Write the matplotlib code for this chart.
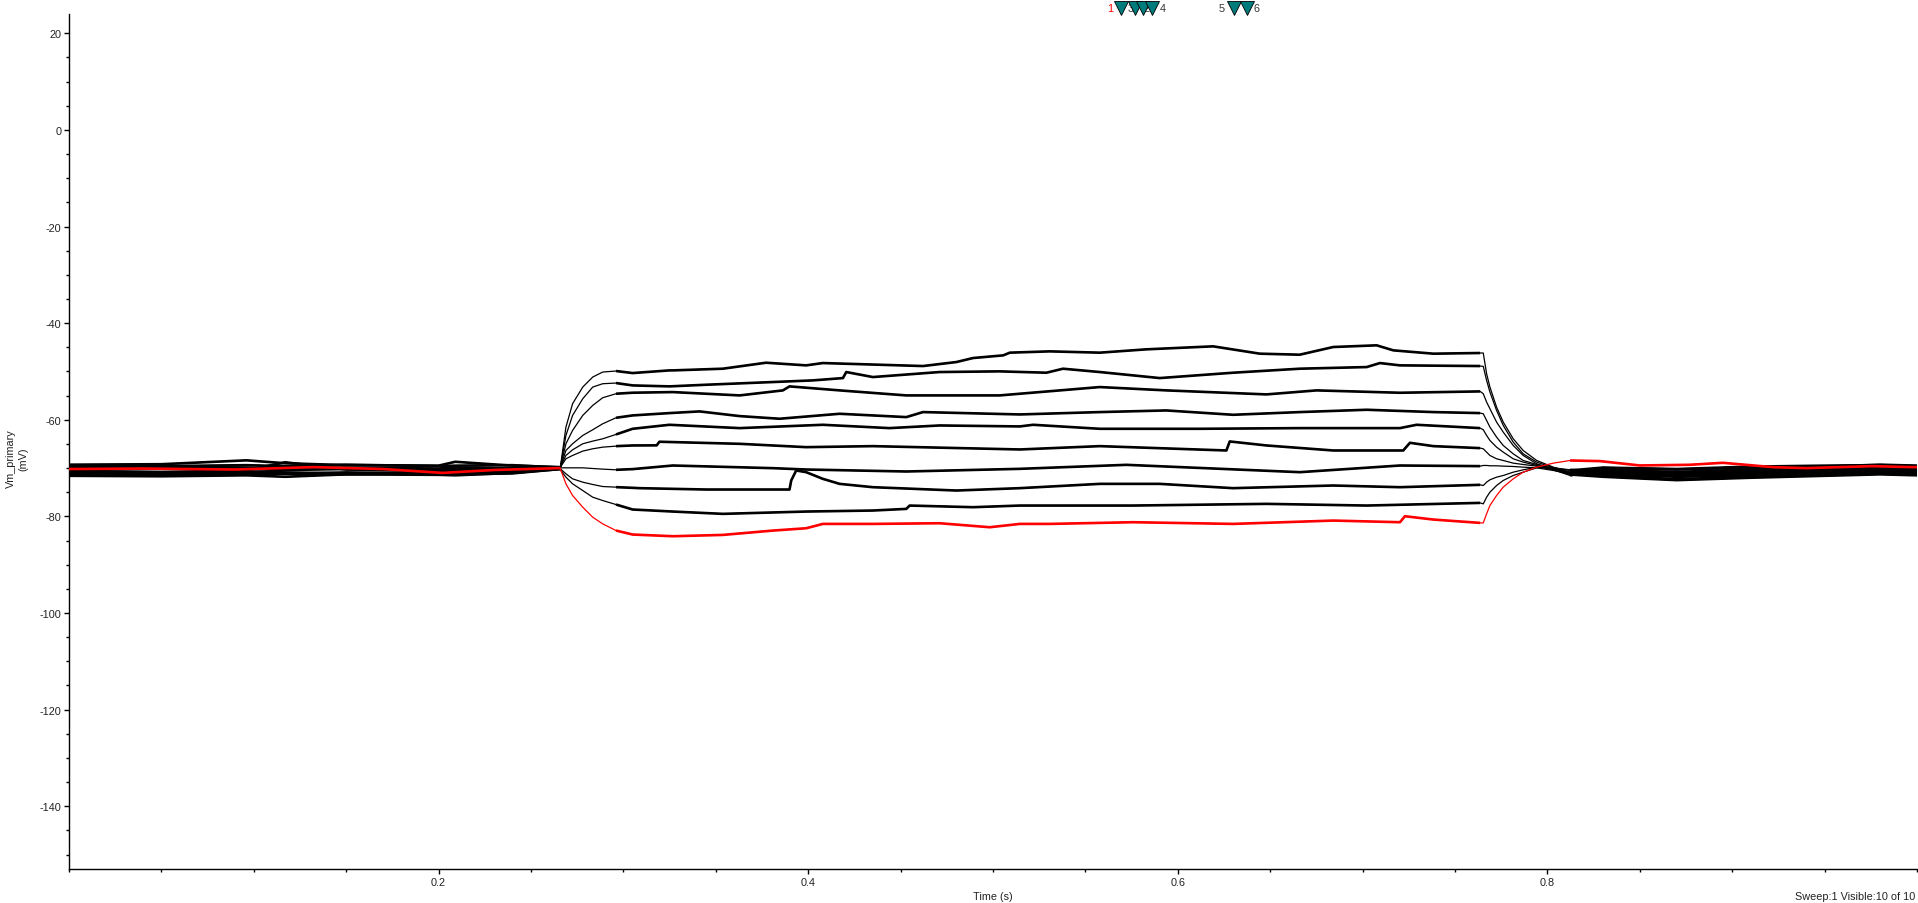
import numpy as np
import matplotlib
matplotlib.use("Agg")
import matplotlib.pyplot as plt
from matplotlib.ticker import MultipleLocator, FixedLocator
import matplotlib.transforms as mtransforms

plt.rcParams['font.family'] = ['Liberation Sans', 'DejaVu Sans']

# ---------------- data (time in s, Vm in mV) ----------------
pre_t = [0.0, 0.05, 0.096, 0.117, 0.15, 0.20, 0.209, 0.24, 0.2659]
onset_t = [0.2659, 0.2689, 0.2725, 0.2780, 0.2834, 0.2888, 0.2960, 0.3050]
offset_t = [0.7653, 0.7671, 0.7689, 0.7725, 0.7761, 0.7815, 0.7869, 0.7942, 0.8032, 0.8123]
post_t = [0.83, 0.87, 0.91, 0.95, 0.98, 1.0]

# sweep 1 (top, most depolarised)
s1_pre = [-69.3, -69.2, -68.4, -69.0, -69.4, -69.5, -68.7, -69.5, -69.8]
s1_on = [-69.81, -61.52, -56.68, -53.23, -51.16, -50.12, -49.91, -50.33]
s1_pl_t = [0.3249, 0.3267, 0.3538, 0.3772, 0.3989, 0.4079, 0.4621, 0.4802, 0.4892, 0.5055, 0.5091,
           0.5307, 0.5578, 0.5830, 0.6191, 0.6444, 0.6660, 0.6841, 0.7076, 0.7166, 0.7383, 0.7636]
s1_pl_v = [-49.78, -49.78, -49.43, -48.19, -48.74, -48.26, -48.88, -48.05, -47.22, -46.67, -46.11,
           -45.84, -46.11, -45.42, -44.80, -46.32, -46.53, -44.94, -44.59, -45.63, -46.32, -46.18]
s1_off = [-46.18, -50.47, -53.23, -57.38, -60.48, -63.94, -66.36, -68.43, -69.81, -70.85]
s1_post = [-70.9, -71.3, -70.8, -70.6, -70.2, -70.4]

# sweep 2
s2_pre = [-70.6, -70.8, -70.5, -68.8, -70.3, -70.5, -70.4, -70.6, -70.0]
s2_on = [-69.81, -63.25, -59.10, -55.65, -53.23, -52.54, -52.40, -52.89]
s2_pl_t = [0.3249, 0.3448, 0.3809, 0.4025, 0.4188, 0.4206, 0.4350, 0.4711, 0.5036, 0.5289, 0.5379,
           0.5578, 0.5902, 0.6299, 0.6660, 0.7022, 0.7094, 0.7202, 0.7636]
s2_pl_v = [-53.09, -52.75, -52.19, -51.85, -51.37, -50.12, -51.16, -50.12, -49.98, -50.26, -49.43,
           -50.12, -51.37, -50.26, -49.43, -49.09, -48.26, -48.74, -48.88]
s2_off = [-48.95, -51.85, -54.27, -58.07, -61.17, -64.63, -67.05, -68.77, -69.95, -71.05]
s2_post = [-71.2, -71.8, -71.5, -71.0, -70.8, -71.0]

# sweep 3
s3_pre = [-71.6, -71.7, -71.5, -71.8, -71.3, -71.4, -71.5, -71.0, -70.2]
s3_on = [-69.81, -64.97, -62.21, -59.10, -57.03, -55.44, -54.61, -54.40]
s3_pl_t = [0.3267, 0.3629, 0.3863, 0.3899, 0.4170, 0.4531, 0.5036, 0.5578, 0.5938, 0.6480,
           0.6751, 0.7202, 0.7636]
s3_pl_v = [-54.27, -54.96, -53.92, -53.09, -53.92, -54.96, -54.96, -53.23, -53.92, -54.75,
           -53.92, -54.41, -54.13]
s3_off = [-54.61, -56.34, -57.72, -60.48, -62.56, -65.32, -67.39, -69.12, -70.16, -70.85]
s3_post = [-70.4, -70.8, -70.3, -70.0, -69.6, -69.8]

# sweep 4
s4_pre = [-69.8, -69.7, -69.9, -70.0, -69.9, -70.1, -69.9, -70.0, -70.0]
s4_on = [-69.81, -66.36, -64.97, -63.25, -62.07, -60.83, -59.59, -59.10]
s4_pl_t = [0.3249, 0.3412, 0.3629, 0.3845, 0.4170, 0.4531, 0.4621, 0.5145, 0.5578, 0.5938,
           0.6299, 0.6660, 0.7022, 0.7383, 0.7636]
s4_pl_v = [-58.62, -58.27, -59.24, -59.79, -58.76, -59.45, -58.41, -58.90, -58.41, -58.07,
           -58.97, -58.41, -57.93, -58.41, -58.62]
s4_off = [-58.76, -60.14, -61.52, -63.59, -65.32, -67.05, -68.43, -69.26, -70.16, -71.19]
s4_post = [-71.5, -72.3, -71.8, -71.4, -71.0, -71.2]

# sweep 5
s5_pre = [-71.0, -71.3, -71.0, -71.2, -70.9, -71.2, -71.1, -70.8, -70.1]
s5_on = [-69.81, -67.39, -66.22, -64.97, -64.42, -63.94, -63.04, -61.87]
s5_pl_t = [0.3249, 0.3629, 0.4079, 0.4440, 0.4711, 0.5145, 0.5217, 0.5578, 0.6119, 0.6660,
           0.7202, 0.7292, 0.7636]
s5_pl_v = [-61.04, -61.73, -61.04, -61.73, -61.18, -61.38, -61.04, -61.87, -61.87, -61.73,
           -61.73, -61.04, -61.73]
s5_off = [-62.07, -63.25, -64.28, -65.67, -66.70, -68.08, -68.77, -69.46, -70.36, -71.33]
s5_post = [-71.8, -72.5, -72.0, -71.6, -71.3, -71.5]

# sweep 6
s6_pre = [-70.3, -70.1, -70.2, -70.4, -70.2, -70.3, -70.4, -70.3, -70.0]
s6_on = [-69.81, -68.08, -67.39, -66.49, -66.01, -65.67, -65.46, -65.32]
s6_pl_t = [0.3180, 0.3195, 0.3629, 0.3989, 0.4350, 0.5145, 0.5578, 0.6263, 0.6281, 0.6480,
           0.6841, 0.7220, 0.7256, 0.7383, 0.7636]
s6_pl_v = [-65.30, -64.55, -64.98, -65.67, -65.46, -66.15, -65.46, -66.36, -64.49, -65.32,
           -66.36, -66.36, -64.77, -65.46, -65.87]
s6_off = [-66.01, -66.70, -67.39, -68.08, -68.43, -68.98, -69.26, -69.60, -70.36, -71.54]
s6_post = [-70.0, -70.3, -69.9, -69.7, -69.3, -69.5]

# sweep 7 (near rest)
s7_pre = [-71.2, -71.0, -71.4, -71.1, -71.3, -71.0, -71.3, -71.1, -70.2]
s7_on = [-69.95, -69.95, -69.95, -69.95, -70.09, -70.22, -70.36, -70.22]
s7_pl_t = [0.3267, 0.3809, 0.3989, 0.4531, 0.5145, 0.5722, 0.6660, 0.7202, 0.7636]
s7_pl_v = [-69.47, -70.02, -70.30, -70.71, -70.16, -69.33, -70.85, -69.47, -69.60]
s7_off = [-69.46, -69.46, -69.53, -69.53, -69.60, -69.67, -69.81, -69.95, -70.50, -71.19]
s7_post = [-70.5, -71.0, -70.6, -70.3, -69.9, -70.1]

# sweep 8
s8_pre = [-69.5, -69.6, -69.4, -69.6, -69.3, -69.6, -69.5, -69.4, -69.9]
s8_on = [-70.16, -71.19, -72.23, -72.92, -73.40, -73.82, -73.95, -74.09]
s8_pl_t = [0.3086, 0.3448, 0.3899, 0.3908, 0.3935, 0.3989, 0.4079, 0.4170, 0.4350, 0.4802,
           0.5145, 0.5578, 0.5902, 0.6299, 0.6841, 0.7202, 0.7636]
s8_pl_v = [-74.16, -74.44, -74.44, -72.58, -70.50, -70.85, -72.23, -73.27, -73.96, -74.65,
           -74.16, -73.27, -73.27, -74.16, -73.61, -73.96, -73.47]
s8_off = [-73.61, -72.92, -72.43, -71.88, -71.54, -70.85, -70.36, -69.81, -69.95, -70.50]
s8_post = [-69.9, -70.2, -69.7, -69.5, -69.4, -69.6]

# sweep 9
s9_pre = [-70.9, -71.0, -70.7, -70.9, -71.1, -70.8, -70.9, -70.6, -70.1]
s9_on = [-70.36, -71.88, -73.26, -74.65, -76.03, -76.72, -77.55, -78.58]
s9_pl_t = [0.3267, 0.3538, 0.3989, 0.4350, 0.4531, 0.4549, 0.4892, 0.5145, 0.5758, 0.6480,
           0.7022, 0.7636]
s9_pl_v = [-79.00, -79.48, -79.00, -78.79, -78.45, -77.76, -78.10, -77.76, -77.76, -77.41,
           -77.76, -77.21]
s9_off = [-77.41, -76.03, -74.99, -73.61, -72.57, -71.54, -70.85, -69.95, -69.95, -70.36]
s9_post = [-70.7, -71.6, -71.2, -70.8, -70.5, -70.7]

# sweep 10 (red, most hyperpolarised, highlighted sweep)
red_pre_t = [0.0, 0.04, 0.09, 0.132, 0.17, 0.202, 0.23, 0.2659]
red_pre = [-70.2, -70.1, -70.3, -69.8, -70.2, -71.0, -70.4, -70.0]
red_on = [-70.16, -73.26, -75.68, -78.10, -80.17, -81.55, -82.93, -83.76]
red_pl_t = [0.3267, 0.3538, 0.3809, 0.3989, 0.4079, 0.4350, 0.4711, 0.4982, 0.5145, 0.5307,
            0.5758, 0.6299, 0.6841, 0.7202, 0.7229, 0.7383, 0.7636]
red_pl_v = [-84.11, -83.84, -82.94, -82.46, -81.56, -81.56, -81.42, -82.25, -81.56, -81.56,
            -81.21, -81.56, -80.87, -81.21, -79.97, -80.66, -81.35]
red_off = [-81.35, -79.48, -77.75, -75.68, -73.95, -72.23, -70.85, -69.81, -68.98, -68.43]
red_post_t = [0.8285, 0.850, 0.877, 0.895, 0.922, 0.940, 0.976, 0.998, 1.0]
red_post = [-68.56, -69.46, -69.32, -68.91, -69.81, -70.01, -69.60, -69.81, -69.8]

# cursors shown above the plot
cursor_t = [0.5691, 0.5767, 0.5810, 0.5859, 0.6305, 0.6372]
cursor_labels = ['1', '3', '2', '4', '5', '6']
cursor_label_t = [0.5637, 0.5745, 0.5832, 0.5919, 0.6236, 0.6426]

x_major = [0.2, 0.4, 0.6, 0.8]
y_major = [-140, -120, -100, -80, -60, -40, -20, 0, 20]

black_sweeps = [
    (s1_pre, s1_on, s1_pl_t, s1_pl_v, s1_off, s1_post),
    (s2_pre, s2_on, s2_pl_t, s2_pl_v, s2_off, s2_post),
    (s3_pre, s3_on, s3_pl_t, s3_pl_v, s3_off, s3_post),
    (s4_pre, s4_on, s4_pl_t, s4_pl_v, s4_off, s4_post),
    (s5_pre, s5_on, s5_pl_t, s5_pl_v, s5_off, s5_post),
    (s6_pre, s6_on, s6_pl_t, s6_pl_v, s6_off, s6_post),
    (s7_pre, s7_on, s7_pl_t, s7_pl_v, s7_off, s7_post),
    (s8_pre, s8_on, s8_pl_t, s8_pl_v, s8_off, s8_post),
    (s9_pre, s9_on, s9_pl_t, s9_pl_v, s9_off, s9_post),
]

# ---------------- figure ----------------
W, H = 1918, 904
fig = plt.figure(figsize=(W / 100, H / 100), dpi=100)
ax = fig.add_axes([69 / W, 1 - 870 / H, (1917 - 69) / W, (870 - 15) / H])


def draw_sweep(pre_tt, pre, on, pl_t, pl_v, off, post_tt, post, color, z):
    # thin continuous trace (fast transients look thin in the recording)
    t = pre_tt + onset_t + pl_t + offset_t + post_tt
    v = pre + on + pl_v + off + post
    ax.plot(t, v, color=color, lw=0.9, zorder=z)
    # noisy steady segments look thicker
    kw = dict(color=color, lw=1.9, solid_joinstyle='round', solid_capstyle='butt', zorder=z)
    ax.plot(pre_tt, pre, **kw)
    ax.plot(onset_t[-2:] + pl_t, on[-2:] + pl_v, **kw)
    ax.plot(offset_t[-1:] + post_tt, off[-1:] + post, **kw)


for pre, on, pl_t, pl_v, off, post in black_sweeps:
    draw_sweep(pre_t, pre, on, pl_t, pl_v, off, post_t, post, 'black', 2)

draw_sweep(red_pre_t, red_pre, red_on, red_pl_t, red_pl_v, red_off, red_post_t, red_post,
           '#ff0000', 3)

ax.set_xlim(0, 1.0)
ax.set_ylim(-153, 24)

for s in ['top', 'right']:
    ax.spines[s].set_visible(False)
for s in ['left', 'bottom']:
    ax.spines[s].set_linewidth(1.0)
    ax.spines[s].set_color('black')

ax.xaxis.set_major_locator(FixedLocator(x_major))
ax.xaxis.set_minor_locator(MultipleLocator(0.05))
ax.yaxis.set_major_locator(FixedLocator(y_major))
ax.yaxis.set_minor_locator(MultipleLocator(5))
ax.set_xticklabels([f'{x:g}' for x in x_major])
ax.set_yticklabels([f'{y:g}' for y in y_major])
ax.tick_params(axis='both', which='major', length=3.3, width=1.0, labelsize=7.8,
               colors='black', labelcolor='#222222', pad=2.2)
ax.tick_params(axis='both', which='minor', length=2.2, width=1.0, colors='black')

fig.text(17 / W, 1 - 459 / H, 'Vm_primary\n(mV)', rotation=90, ha='center', va='center',
         fontsize=7.8, color='#222222', multialignment='center', linespacing=1.3)
fig.text(993 / W, 1 - 897 / H, 'Time (s)', ha='center', va='center', fontsize=7.8, color='#222222')
fig.text(1915 / W, 1 - 897 / H, 'Sweep:1 Visible:10 of 10', ha='right', va='center',
         fontsize=7.8, color='#222222')

# cursor markers above the axes
trans = mtransforms.blended_transform_factory(ax.transData, ax.transAxes)
ymark = 1 + (15 - 8.5) / (870 - 15)
for lab, lt in zip(cursor_labels, cursor_label_t):
    ax.text(lt, ymark, lab, transform=trans, ha='center', va='center', fontsize=7.8,
            color='#ff0000' if lab == '1' else '#333333', clip_on=False, zorder=4)
ax.plot(cursor_t, [ymark] * len(cursor_t), linestyle='none', marker='v', markersize=10,
        markerfacecolor='#007b7b', markeredgecolor='black', markeredgewidth=0.6,
        transform=trans, clip_on=False, zorder=5)

fig.savefig('out.png', dpi=100, facecolor='white')
